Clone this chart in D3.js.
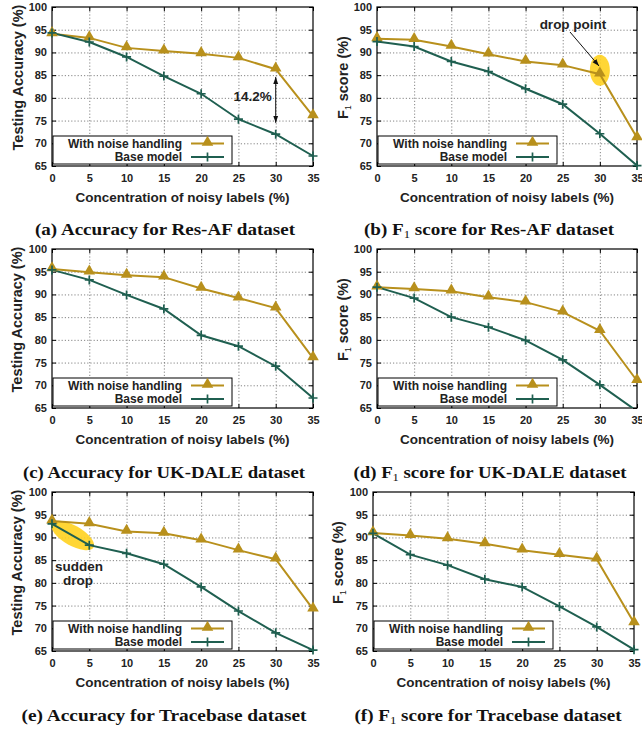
<!DOCTYPE html>
<html>
<head>
<meta charset="utf-8">
<script src="https://cdn.jsdelivr.net/npm/d3@7"></script>
<style>
  body { margin: 0; background: #fff; }
  svg text { font-family: "Liberation Sans", Arial, sans-serif; font-weight: bold; fill: #222; }
  svg text.caption { font-family: "Liberation Serif", "Times New Roman", serif; fill: #111; }
</style>
</head>
<body>
<svg id="viz"></svg>
<script>
var width = 642;
var height = 729;

// noise concentration (%)
var noiseLevels = [0, 5, 10, 15, 20, 25, 30, 35];
var yTicks = [65, 70, 75, 80, 85, 90, 95, 100];

// Res-AF
var resAccNoise = [94.1, 93.2, 91.0, 90.3, 89.7, 88.8, 86.3, 76.0];
var resAccBase  = [94.3, 92.3, 89.0, 84.8, 80.9, 75.3, 72.0, 67.2];
var resF1Noise  = [93.0, 92.8, 91.3, 89.6, 88.0, 87.2, 85.2, 71.2];
var resF1Base   = [92.4, 91.3, 88.0, 85.8, 82.0, 78.6, 72.1, 65.1];

// UK-DALE
var ukAccNoise = [95.6, 94.9, 94.2, 93.8, 91.3, 89.2, 87.0, 76.0];
var ukAccBase  = [95.4, 93.2, 89.9, 86.8, 81.0, 78.6, 74.2, 67.2];
var ukF1Noise  = [91.6, 91.2, 90.7, 89.4, 88.3, 86.1, 82.0, 71.0];
var ukF1Base   = [91.6, 89.2, 85.0, 82.8, 79.9, 75.6, 70.1, 64.3];

// Tracebase
var trAccNoise = [93.6, 93.0, 91.3, 90.9, 89.4, 87.2, 85.2, 74.2];
var trAccBase  = [93.0, 88.3, 86.5, 84.1, 79.1, 73.8, 69.0, 65.2];
var trF1Noise  = [91.0, 90.4, 89.7, 88.6, 87.2, 86.2, 85.2, 71.2];
var trF1Base   = [90.9, 86.2, 83.9, 80.8, 79.1, 74.8, 70.3, 65.3];

var seriesNames = ["With noise handling", "Base model"];
var gold = "#b8901c";
var green = "#1f5f50";

var panels = [
  { id: "a", left: 52, right: 313, top: 7, bottom: 166, yLabel: "acc", noise: resAccNoise, base: resAccBase,
    capX: 165, capY: 235, capW: 260, caption: ["(a) Accuracy for Res-AF dataset"], titleX: 18 },
  { id: "b", left: 377, right: 637, top: 7, bottom: 166, yLabel: "f1", noise: resF1Noise, base: resF1Base,
    capX: 489, capY: 235, capW: 250, caption: ["(b) F", "1", " score for Res-AF dataset"], titleX: 343 },
  { id: "c", left: 52, right: 313, top: 249, bottom: 408, yLabel: "acc", noise: ukAccNoise, base: ukAccBase,
    capX: 164, capY: 478, capW: 282, caption: ["(c) Accuracy for UK-DALE dataset"], titleX: 17 },
  { id: "d", left: 377, right: 637, top: 249, bottom: 408, yLabel: "f1", noise: ukF1Noise, base: ukF1Base,
    capX: 490, capY: 478, capW: 273, caption: ["(d) F", "1", " score for UK-DALE dataset"], titleX: 343 },
  { id: "e", left: 52, right: 313, top: 492, bottom: 651, yLabel: "acc", noise: trAccNoise, base: trAccBase,
    capX: 164, capY: 721, capW: 285, caption: ["(e) Accuracy for Tracebase dataset"], titleX: 17 },
  { id: "f", left: 373, right: 634, top: 492, bottom: 651, yLabel: "f1", noise: trF1Noise, base: trF1Base,
    capX: 488, capY: 721, capW: 267, caption: ["(f) F", "1", " score for Tracebase dataset"], titleX: 338 }
];

var svg = d3.select("#viz")
    .attr("width", width)
    .attr("height", height);

var defs = svg.append("defs");
defs.append("marker")
    .attr("id", "arrow")
    .attr("viewBox", "0 0 10 10")
    .attr("refX", 10).attr("refY", 5)
    .attr("markerWidth", 7).attr("markerHeight", 7)
    .attr("orient", "auto-start-reverse")
    .append("path")
    .attr("d", "M0,1.5 L10,5 L0,8.5 Z")
    .attr("fill", "#111");

var triangle = d3.symbol().type(d3.symbolTriangle).size(58);

panels.forEach(function(p) {
    var g = svg.append("g").attr("class", "panel-" + p.id);

    var x = d3.scaleLinear().domain([0, 35]).range([p.left, p.right]);
    var y = d3.scaleLinear().domain([65, 100]).range([p.bottom, p.top]);
    var w = p.right - p.left;
    var h = p.bottom - p.top;

    defs.append("clipPath").attr("id", "clip-" + p.id)
        .append("rect")
        .attr("x", p.left - 10).attr("y", p.top)
        .attr("width", w + 20).attr("height", h);

    // dotted grid
    g.append("g")
        .attr("transform", "translate(0," + p.bottom + ")")
        .call(d3.axisBottom(x).tickValues(noiseLevels.slice(1, -1)).tickSize(-h).tickFormat(""))
        .call(function(s) { s.select(".domain").remove(); });
    g.append("g")
        .attr("transform", "translate(" + p.left + ",0)")
        .call(d3.axisLeft(y).tickValues(yTicks.slice(1, -1)).tickSize(-w).tickFormat(""))
        .call(function(s) { s.select(".domain").remove(); });
    g.selectAll(".tick line")
        .attr("stroke", "#777")
        .attr("stroke-width", 0.9)
        .attr("stroke-dasharray", "1.2,2");

    // axes with inward ticks
    var xAxis = g.append("g")
        .attr("transform", "translate(0," + p.bottom + ")")
        .call(d3.axisBottom(x).tickValues(noiseLevels).tickSize(-4).tickSizeOuter(0).tickPadding(8));
    var yAxis = g.append("g")
        .attr("transform", "translate(" + p.left + ",0)")
        .call(d3.axisLeft(y).tickValues(yTicks).tickSize(-4).tickSizeOuter(0).tickPadding(5));
    g.append("g")
        .attr("transform", "translate(0," + p.top + ")")
        .call(d3.axisTop(x).tickValues(noiseLevels).tickSize(-4).tickSizeOuter(0).tickFormat(""));
    g.append("g")
        .attr("transform", "translate(" + p.right + ",0)")
        .call(d3.axisRight(y).tickValues(yTicks).tickSize(-4).tickSizeOuter(0).tickFormat(""));
    [xAxis, yAxis].forEach(function(a) {
        a.selectAll("text").style("font-size", "11px").attr("fill", "#222");
    });
    g.selectAll(".domain").remove();
    g.selectAll("line").filter(function() { return !this.getAttribute("stroke-dasharray"); })
        .attr("stroke", "#000");

    g.append("rect")
        .attr("x", p.left).attr("y", p.top)
        .attr("width", w).attr("height", h)
        .attr("fill", "none").attr("stroke", "#000").attr("stroke-width", 1.2);

    // axis titles
    g.append("text")
        .attr("x", (p.left + p.right) / 2).attr("y", p.bottom + 36)
        .attr("text-anchor", "middle")
        .style("font-size", "13.5px")
        .text("Concentration of noisy labels (%)");

    var yt = g.append("text")
        .attr("transform", "translate(" + (p.titleX + 5) + "," + ((p.top + p.bottom) / 2 - 9) + ") rotate(-90)")
        .attr("text-anchor", "middle")
        .style("font-size", "14.5px");
    if (p.yLabel === "acc") {
        yt.text("Testing Accuracy (%)");
    } else {
        yt.append("tspan").text("F");
        yt.append("tspan").attr("dy", 3).style("font-size", "8.5px").style("font-weight", "normal").text("1");
        yt.append("tspan").attr("dy", -3).text(" score (%)");
    }

    // annotations drawn beneath the lines
    if (p.id === "b") {
        g.append("ellipse")
            .attr("cx", x(30)).attr("cy", y(85.2) - 4)
            .attr("rx", 10).attr("ry", 15.5)
            .attr("fill", "#ffd21f").attr("opacity", 0.9);
    }
    if (p.id === "e") {
        var ex = (x(0) + x(5)) / 2 + 2, ey = (y(93.0) + y(88.3)) / 2 + 1;
        var ang = Math.atan2(y(88.3) - y(93.0), x(5) - x(0)) * 180 / Math.PI;
        g.append("ellipse")
            .attr("transform", "translate(" + ex + "," + ey + ") rotate(" + ang + ")")
            .attr("rx", 24).attr("ry", 10)
            .attr("fill", "#ffd21f").attr("opacity", 0.9);
    }

    var line = d3.line()
        .x(function(d, i) { return x(noiseLevels[i]); })
        .y(function(d) { return y(d); });

    var lines = g.append("g").attr("clip-path", "url(#clip-" + p.id + ")");
    lines.append("path")
        .attr("d", line(p.noise))
        .attr("fill", "none").attr("stroke", gold).attr("stroke-width", 2);
    lines.append("path")
        .attr("d", line(p.base))
        .attr("fill", "none").attr("stroke", green).attr("stroke-width", 2);

    g.selectAll(".tri")
        .data(p.noise.filter(function(d) { return d >= 65; }))
        .enter().append("path")
        .attr("transform", function(d, i) { return "translate(" + x(noiseLevels[i]) + "," + (y(d) - 1) + ")"; })
        .attr("d", triangle)
        .attr("fill", gold);

    g.selectAll(".plus")
        .data(p.base.map(function(d, i) { return [noiseLevels[i], d]; }).filter(function(d) { return d[1] >= 65; }))
        .enter().append("path")
        .attr("d", function(d) {
            var cx = x(d[0]), cy = y(d[1]);
            return "M" + (cx - 4.5) + "," + cy + "H" + (cx + 4.5) + "M" + cx + "," + (cy - 4.5) + "V" + (cy + 4.5);
        })
        .attr("stroke", green).attr("stroke-width", 1.7);

    // legend
    var lg = g.append("g").attr("transform", "translate(" + (p.left + 1) + "," + (p.bottom - 30) + ")");
    lg.append("rect")
        .attr("width", 179).attr("height", 28)
        .attr("fill", "#fff").attr("stroke", "#000").attr("stroke-width", 1);
    [gold, green].forEach(function(c, i) {
        var ry = 7.5 + i * 13.6;
        lg.append("text")
            .attr("x", 129).attr("y", ry).attr("dy", "0.34em")
            .attr("text-anchor", "end")
            .style("font-size", "12px")
            .text(seriesNames[i]);
        lg.append("line")
            .attr("x1", 138).attr("x2", 171).attr("y1", ry).attr("y2", ry)
            .attr("stroke", c).attr("stroke-width", 2);
        if (i === 0) {
            lg.append("path").attr("transform", "translate(154.5," + (ry - 1) + ")")
                .attr("d", triangle).attr("fill", gold);
        } else {
            lg.append("path")
                .attr("d", "M150," + ry + "H159M154.5," + (ry - 4.5) + "V" + (ry + 4.5))
                .attr("stroke", green).attr("stroke-width", 1.7);
        }
    });

    // other annotations
    if (p.id === "a") {
        g.append("line")
            .attr("x1", x(30)).attr("x2", x(30))
            .attr("y1", y(84.6)).attr("y2", y(74.5))
            .attr("stroke", "#111").attr("stroke-width", 1)
            .attr("marker-start", "url(#arrow)").attr("marker-end", "url(#arrow)");
        g.append("text")
            .attr("x", x(30) - 4).attr("y", y(80.3)).attr("dy", "0.36em")
            .attr("text-anchor", "end")
            .style("font-size", "13.5px")
            .text("14.2%");
    }
    if (p.id === "b") {
        g.append("text")
            .attr("x", 573).attr("y", 24).attr("dy", "0.36em")
            .attr("text-anchor", "middle")
            .style("font-size", "13.5px")
            .text("drop point");
        g.append("line")
            .attr("x1", 570).attr("y1", 32).attr("x2", 599).attr("y2", 66)
            .attr("stroke", "#111").attr("stroke-width", 1)
            .attr("marker-end", "url(#arrow)");
    }
    if (p.id === "e") {
        g.append("text")
            .attr("x", 79).attr("y", 566).attr("dy", "0.36em")
            .attr("text-anchor", "middle")
            .style("font-size", "13.5px")
            .text("sudden");
        g.append("text")
            .attr("x", 78).attr("y", 580).attr("dy", "0.36em")
            .attr("text-anchor", "middle")
            .style("font-size", "13.5px")
            .text("drop");
    }

    // caption
    var cap = g.append("text")
        .attr("class", "caption")
        .attr("x", p.capX).attr("y", p.capY)
        .attr("text-anchor", "middle")
        .attr("textLength", p.capW)
        .attr("lengthAdjust", "spacingAndGlyphs")
        .style("font-size", "16.5px");
    cap.append("tspan").text(p.caption[0]);
    if (p.caption.length > 1) {
        cap.append("tspan").attr("dy", 3).style("font-size", "11px").style("font-weight", "normal").text(p.caption[1]);
        cap.append("tspan").attr("dy", -3).text(p.caption[2]);
    }
});
</script>
</body>
</html>
